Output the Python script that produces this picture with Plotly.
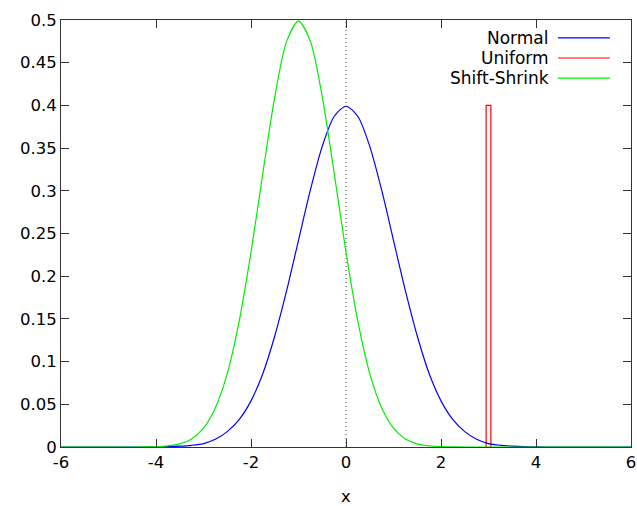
import plotly.graph_objects as go

# Sample positions (x) and values
x_vals = [-6.0, -5.5, -5.0, -4.5, -4.25, -4.0, -3.75, -3.5, -3.25, -3.0, -2.75, -2.5, -2.25, -2.0,
          -1.75, -1.5, -1.25, -1.0, -0.75, -0.5, -0.25, 0.0, 0.25, 0.5, 0.75, 1.0,
          1.25, 1.5, 1.75, 2.0, 2.25, 2.5, 2.75, 3.0, 3.25, 3.5, 3.75, 4.0, 4.5, 5.0, 5.5, 6.0]

normal_y = [0.0, 0.0, 0.0, 0.0, 0.0, 0.0001, 0.0004, 0.001, 0.002, 0.004, 0.009, 0.018, 0.032, 0.054,
            0.086, 0.130, 0.183, 0.242, 0.301, 0.352, 0.387, 0.399, 0.387, 0.352, 0.301, 0.242,
            0.183, 0.130, 0.086, 0.054, 0.032, 0.018, 0.009, 0.004, 0.002, 0.001, 0.0004, 0.0001, 0.0, 0.0, 0.0, 0.0]

shift_shrink_y = [0.0, 0.0, 0.0, 0.0, 0.0001, 0.0004, 0.0013, 0.0037, 0.0095, 0.022, 0.046, 0.086, 0.147, 0.228,
                  0.321, 0.410, 0.475, 0.4987, 0.475, 0.410, 0.321, 0.228, 0.147, 0.086, 0.046, 0.022,
                  0.0095, 0.0037, 0.0013, 0.0004, 0.0001, 0.0, 0.0, 0.0, 0.0, 0.0, 0.0, 0.0, 0.0, 0.0, 0.0, 0.0]

uniform_x = [2.95, 2.95, 3.05, 3.05]
uniform_y = [0.0, 0.4, 0.4, 0.0]

series_names = ["Normal", "Uniform", "Shift-Shrink"]
series_colors = ["#0000ff", "#ff0000", "#00ee00"]

x_ticks = [-6, -4, -2, 0, 2, 4, 6]
y_ticks = [0, 0.05, 0.1, 0.15, 0.2, 0.25, 0.3, 0.35, 0.4, 0.45, 0.5]
y_tick_text = ["0", "0.05", "0.1", "0.15", "0.2", "0.25", "0.3", "0.35", "0.4", "0.45", "0.5"]

FONT = "DejaVu Sans"

fig = go.Figure()
fig.add_trace(go.Scatter(x=uniform_x, y=uniform_y, mode="lines", name=series_names[1],
                         line=dict(color=series_colors[1], width=1.2)))
fig.add_trace(go.Scatter(x=x_vals, y=normal_y, mode="lines", name=series_names[0],
                         line=dict(color=series_colors[0], width=1.2, shape="spline", smoothing=0.8)))
fig.add_trace(go.Scatter(x=x_vals, y=shift_shrink_y, mode="lines", name=series_names[2],
                         line=dict(color=series_colors[2], width=1.2, shape="spline", smoothing=0.8)))

# zero axis (dotted)
fig.add_shape(type="line", xref="x", yref="paper", x0=0, x1=0, y0=0, y1=1,
              line=dict(color="#444444", width=1, dash="1px,3px"), layer="below")

# gnuplot-style legend: right-aligned text, line sample to the right
legend_rows = [0.958, 0.911, 0.864]
for name, color, yy in zip(series_names, series_colors, legend_rows):
    fig.add_annotation(xref="paper", yref="paper", x=0.856, y=yy, text=name, showarrow=False,
                       xanchor="right", yanchor="middle", xshift=2,
                       font=dict(family=FONT, size=17, color="black"))
    fig.add_shape(type="line", xref="paper", yref="paper", x0=0.872, x1=0.963, y0=yy, y1=yy,
                  line=dict(color=color, width=1.2))

axis_common = dict(showline=True, linecolor="#333333", linewidth=1, mirror="allticks",
                   ticks="inside", ticklen=8, tickcolor="#333333", showgrid=False, zeroline=False,
                   automargin=False, tickfont=dict(family=FONT, size=16.5, color="black"))

fig.update_xaxes(range=[-6, 6], tickvals=x_ticks, ticktext=[str(t) for t in x_ticks],
                 title=dict(text="x", font=dict(family=FONT, size=16.5, color="black"), standoff=20),
                 **axis_common)
fig.update_yaxes(range=[0, 0.5], tickvals=y_ticks, ticktext=y_tick_text, **axis_common)

fig.update_layout(width=637, height=506, showlegend=False,
                  margin=dict(l=61, r=6, t=20, b=59),
                  paper_bgcolor="white", plot_bgcolor="white",
                  font=dict(family=FONT, size=16.5, color="black"))

fig.write_html("out.html", config={"displayModeBar": False},
               post_script="document.body.style.margin='0';document.body.style.overflow='hidden';"
                           "document.documentElement.style.overflow='hidden';")
